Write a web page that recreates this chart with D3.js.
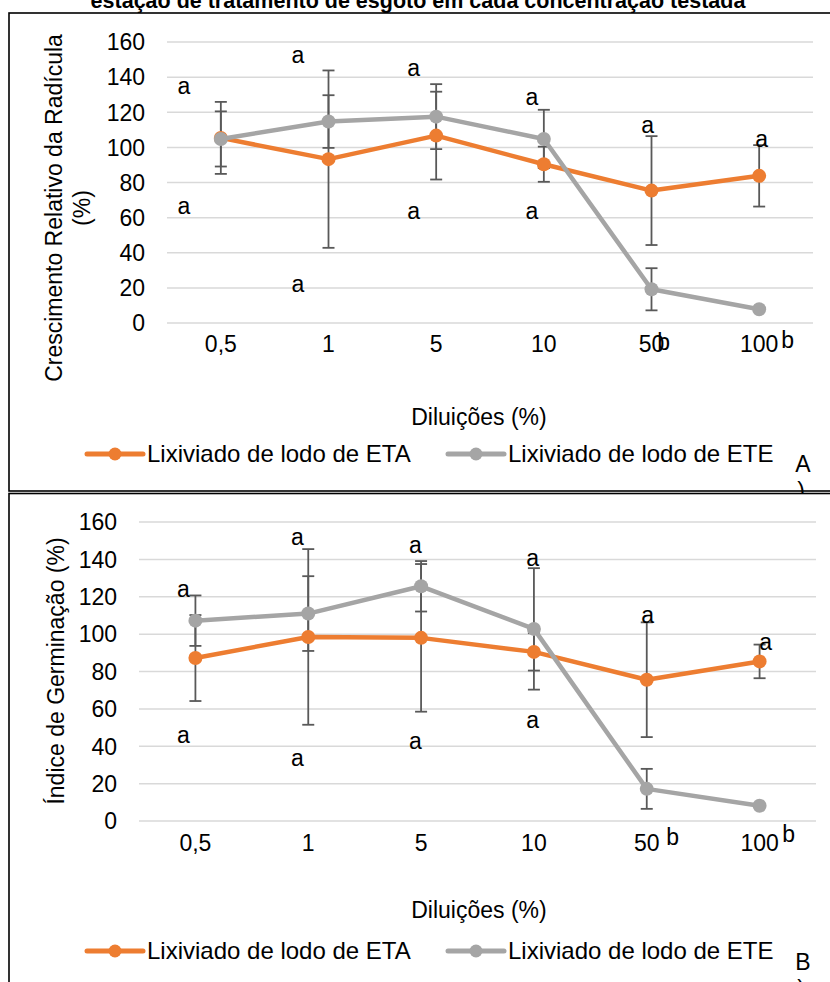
<!DOCTYPE html>
<html>
<head>
<meta charset="utf-8">
<script src="https://cdn.jsdelivr.net/npm/d3@7"></script>
<style>
  body { margin: 0; background: #fff; }
  svg text { font-family: "Liberation Sans", Arial, sans-serif; fill: #000; }
</style>
</head>
<body>
<div id="chart"></div>
<script>
const cats = ['0,5', '1', '5', '10', '50', '100'];
const yTicks = [0, 20, 40, 60, 80, 100, 120, 140, 160];
const seriesNames = ['Lixiviado de lodo de ETA', 'Lixiviado de lodo de ETE'];

// painel A - crescimento relativo da radicula
const etaA = [105.4, 93.3, 106.7, 90.4, 75.4, 83.8];
const eteA = [104.8, 114.7, 117.5, 104.8, 19.2, 7.8];
const etaErrA = [20.5, 50.5, 25, 10, 31, 17.5];
const eteErrA = [15.7, 15, 18.5, 16.6, 12, 0];
// letras de significancia: indice da categoria (fracionario) e valor da linha de base
const lettersA = [
  {i: -0.344, v: 130.5, t: 'a'}, {i: -0.344, v: 62.1, t: 'a'},
  {i: 0.715, v: 148.1, t: 'a'}, {i: 0.715, v: 17.7, t: 'a'},
  {i: 1.792, v: 140.7, t: 'a'}, {i: 1.792, v: 59.3, t: 'a'},
  {i: 2.888, v: 124.2, t: 'a'}, {i: 2.888, v: 59.3, t: 'a'},
  {i: 3.965, v: 108.3, t: 'a'}, {i: 4.113, v: -15.4, t: 'b'},
  {i: 5.023, v: 100.3, t: 'a'}, {i: 5.265, v: -14.2, t: 'b'}
];

// painel B - indice de germinacao
const etaB = [87.2, 98.5, 98, 90.5, 75.6, 85.4];
const eteB = [107.2, 111, 125.6, 102.8, 17.2, 8.2];
const etaErrB = [23, 47, 39.5, 10, 30.7, 9];
const eteErrB = [13.5, 20, 13.5, 32.5, 10.7, 0];
const lettersB = [
  {i: -0.106, v: 120.1, t: 'a'}, {i: -0.106, v: 41.8, t: 'a'},
  {i: 0.904, v: 147.5, t: 'a'}, {i: 0.904, v: 29.5, t: 'a'},
  {i: 1.950, v: 143.2, t: 'a'}, {i: 1.950, v: 38.6, t: 'a'},
  {i: 2.988, v: 136.7, t: 'a'}, {i: 2.988, v: 49.9, t: 'a'},
  {i: 4.007, v: 106.2, t: 'a'}, {i: 4.229, v: -12.9, t: 'b'},
  {i: 5.053, v: 91.7, t: 'a'}, {i: 5.257, v: -11.3, t: 'b'}
];

const W = 830, H = 982;
const orange = '#ed7d31', gray = '#a5a5a5', errCol = '#595959', gridCol = '#d9d9d9';
const fs = 23;

const svg = d3.select('#chart').append('svg')
  .attr('width', W).attr('height', H);

// titulo (cortado no topo)
svg.append('text')
  .attr('x', 418).attr('y', 8)
  .attr('text-anchor', 'middle')
  .style('font-weight', 'bold').style('font-size', '21.5px')
  .text('estação de tratamento de esgoto em cada concentração testada');

function drawPanel(p) {
  const g = svg.append('g');

  // fundo e moldura
  g.append('rect')
    .attr('x', 9).attr('y', p.boxTop)
    .attr('width', W + 10).attr('height', p.boxBottom - p.boxTop)
    .attr('fill', '#fff').attr('stroke', '#000').attr('stroke-width', 1.6);

  const x = d3.scaleBand().domain(cats).range([p.left, p.right]);
  const step = x.step();
  const cx = c => x(c) + x.bandwidth() / 2;
  const xi = i => p.left + step * (i + 0.5);
  const y = d3.scaleLinear().domain([0, 160]).range([p.bottom, p.top]);

  // grade
  g.append('g').selectAll('line').data(yTicks).enter().append('line')
    .attr('x1', p.left).attr('x2', p.right)
    .attr('y1', d => y(d)).attr('y2', d => y(d))
    .attr('stroke', gridCol).attr('stroke-width', 1.5);

  // eixo y
  const yAxis = g.append('g')
    .attr('transform', 'translate(' + (p.left - 22) + ',0)')
    .call(d3.axisLeft(y).tickValues(yTicks).tickSize(0).tickPadding(0));
  yAxis.select('.domain').remove();
  yAxis.selectAll('text').style('font-size', fs + 'px')
    .style('font-family', '"Liberation Sans", Arial, sans-serif').attr('dy', '0.34em');

  // eixo x
  const xAxis = g.append('g')
    .attr('transform', 'translate(0,' + p.xLabY + ')')
    .call(d3.axisBottom(x).tickSize(0).tickPadding(0));
  xAxis.select('.domain').remove();
  xAxis.selectAll('text').style('font-size', fs + 'px')
    .style('font-family', '"Liberation Sans", Arial, sans-serif').attr('dy', 0);

  // barras de erro
  const series = [
    {vals: p.eta, err: p.etaErr, col: orange},
    {vals: p.ete, err: p.eteErr, col: gray}
  ];
  series.forEach(s => {
    const eg = g.append('g').attr('stroke', errCol).attr('stroke-width', 1.8);
    cats.forEach((c, i) => {
      if (!s.err[i]) return;
      const hi = y(s.vals[i] + s.err[i]), lo = y(s.vals[i] - s.err[i]);
      eg.append('line').attr('x1', cx(c)).attr('x2', cx(c)).attr('y1', hi).attr('y2', lo);
      eg.append('line').attr('x1', cx(c) - 6).attr('x2', cx(c) + 6).attr('y1', hi).attr('y2', hi);
      eg.append('line').attr('x1', cx(c) - 6).attr('x2', cx(c) + 6).attr('y1', lo).attr('y2', lo);
    });
  });

  // linhas e marcadores
  const line = d3.line().x((d, i) => cx(cats[i])).y(d => y(d));
  series.forEach(s => {
    g.append('path').datum(s.vals)
      .attr('d', line).attr('fill', 'none')
      .attr('stroke', s.col).attr('stroke-width', 4.5).attr('stroke-linejoin', 'round');
    g.append('g').selectAll('circle').data(s.vals).enter().append('circle')
      .attr('cx', (d, i) => cx(cats[i])).attr('cy', d => y(d))
      .attr('r', 7).attr('fill', s.col);
  });

  // letras
  g.append('g').selectAll('text').data(p.letters).enter().append('text')
    .attr('x', d => xi(d.i)).attr('y', d => y(d.v))
    .attr('text-anchor', 'middle').style('font-size', fs + 'px')
    .text(d => d.t);

  // titulo eixo y
  const yt = g.append('text')
    .attr('transform', 'translate(' + p.yTitleX + ',' + p.yTitleY + ') rotate(-90)')
    .attr('text-anchor', 'middle').style('font-size', fs + 'px');
  p.yTitle.forEach((t, k) => {
    yt.append('tspan').attr('x', 0).attr('y', k * 28 - (p.yTitle.length - 1) * 14).text(t);
  });

  // titulo eixo x
  g.append('text')
    .attr('x', 479).attr('y', p.xTitleY)
    .attr('text-anchor', 'middle').style('font-size', fs + 'px')
    .text('Diluições (%)');

  // legenda
  const leg = [{x: 87, col: orange}, {x: 448, col: gray}];
  leg.forEach((l, k) => {
    g.append('line').attr('x1', l.x).attr('x2', l.x + 56)
      .attr('y1', p.legY).attr('y2', p.legY)
      .attr('stroke', l.col).attr('stroke-width', 5).attr('stroke-linecap', 'round');
    g.append('circle').attr('cx', l.x + 28).attr('cy', p.legY).attr('r', 6.5).attr('fill', l.col);
    g.append('text').attr('x', l.x + 60).attr('y', p.legY + 8)
      .style('font-size', '24px').text(seriesNames[k]);
  });

  // rotulo do painel
  g.append('text').attr('x', 803).attr('y', p.tagY)
    .attr('text-anchor', 'middle').style('font-size', fs + 'px').text(p.tag);
  g.append('text').attr('x', 801).attr('y', p.tagY + 27)
    .attr('text-anchor', 'middle').style('font-size', fs + 'px').text(')');
}

drawPanel({
  boxTop: 13, boxBottom: 491,
  left: 167, right: 813, top: 42, bottom: 323,
  eta: etaA, ete: eteA, etaErr: etaErrA, eteErr: eteErrA, letters: lettersA,
  xLabY: 352, xTitleY: 425, legY: 454, tagY: 472,
  yTitle: ['Crescimento Relativo da Radícula', '(%)'], yTitleX: 76, yTitleY: 208,
  tag: 'A'
});

drawPanel({
  boxTop: 493.5, boxBottom: 1100,
  left: 139, right: 816, top: 522, bottom: 821,
  eta: etaB, ete: eteB, etaErr: etaErrB, eteErr: eteErrB, letters: lettersB,
  xLabY: 851, xTitleY: 918, legY: 951, tagY: 970,
  yTitle: ['Índice de Germinação (%)'], yTitleX: 64, yTitleY: 671,
  tag: 'B'
});
</script>
</body>
</html>
